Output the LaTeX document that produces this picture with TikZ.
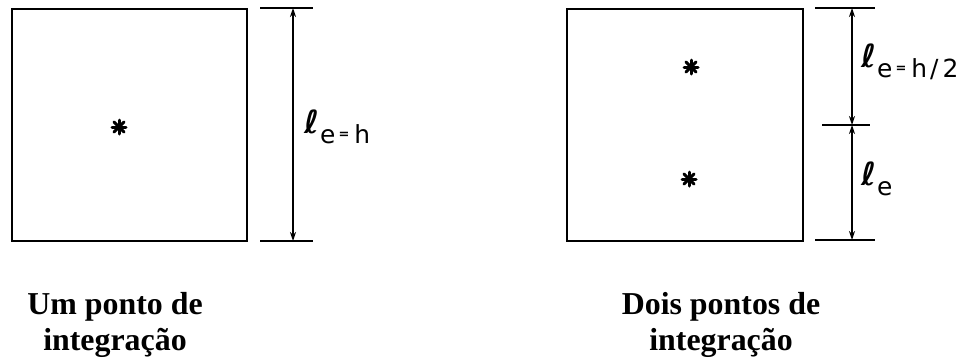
\documentclass[tikz,border=0pt]{standalone}
\usepackage{fontspec}
\setmainfont{Liberation Serif}
\newfontfamily\lettering{DejaVu Sans}
\usetikzlibrary{arrows.meta}
\tikzset{
  elem/.style={draw, line width=2.9bp, minimum height=232bp, inner sep=0pt, outer sep=0pt},
  extline/.style={line width=2bp},
  dimline/.style={line width=2bp, {Stealth[length=9bp,width=6bp]}-{Stealth[length=9bp,width=6bp]}},
  gpt/.style={line width=3bp, line cap=round},
  dimlabel/.style={anchor=base west, inner sep=0pt, font=\lettering\fontsize{25}{27}\selectfont},
  caption/.style={align=center, inner sep=0pt, font=\bfseries\fontsize{32}{36}\selectfont}
}
\newcommand{\gauss}[1]{%
  \draw[gpt] (#1) +(-7,0) -- +(7,0);
  \draw[gpt] (#1) +(0,-7) -- +(0,7);
  \draw[gpt] (#1) +(-5,-5) -- +(5,5);
  \draw[gpt] (#1) +(-5,5) -- +(5,-5);
}
\newcommand{\elen}{\raisebox{10bp}{\fontsize{32}{32}\selectfont\bfseries ℓ}\kern1bp e}
\newcommand{\smalleq}{\kern3bp\raisebox{5bp}{\fontsize{13}{13}\selectfont\bfseries =}\kern5bp}
\begin{document}
\begin{tikzpicture}[x=1bp,y=-1bp]
\useasboundingbox (0,0) rectangle (968,359);
% elements
\node[elem, minimum width=235bp] (boxA) at (129.5,125) {};
\node[elem, minimum width=236bp] (boxB) at (685,125) {};
% integration points
\coordinate (gA) at (119,127);
\coordinate (gB1) at (691,67);
\coordinate (gB2) at (689,179);
\gauss{gA}
\gauss{gB1}
\gauss{gB2}
% left dimension
\coordinate (aT1) at (260,8);  \coordinate (aT2) at (313,8);
\coordinate (aB1) at (260,241); \coordinate (aB2) at (313,241);
\coordinate (aT) at (293,8);   \coordinate (aB) at (293,241);
\draw[extline] (aT1) -- (aT2);
\draw[extline] (aB1) -- (aB2);
\draw[dimline] (aT) -- (aB);
\node[dimlabel] (labA) at (304,143) {\elen\smalleq h};
% right dimension
\coordinate (bT1) at (815,8);  \coordinate (bT2) at (875,8);
\coordinate (bM1) at (822,125); \coordinate (bM2) at (870,125);
\coordinate (bB1) at (815,240); \coordinate (bB2) at (875,240);
\coordinate (bT) at (852,8); \coordinate (bM) at (852,125); \coordinate (bB) at (852,240);
\draw[extline] (bT1) -- (bT2);
\draw[extline] (bM1) -- (bM2);
\draw[extline] (bB1) -- (bB2);
\draw[dimline] (bT) -- (bM);
\draw[dimline] (bM) -- (bB);
\node[dimlabel] (labB1) at (861,77) {\elen\smalleq h\kern3bp/\kern4bp2};
\node[dimlabel] (labB2) at (861,195) {\elen};
% captions
\node[caption, anchor=base] (capA) at (115,350) {Um ponto de\\integração};
\node[caption, anchor=base] (capB) at (721,350) {Dois pontos de\\integração};
\end{tikzpicture}
\end{document}
